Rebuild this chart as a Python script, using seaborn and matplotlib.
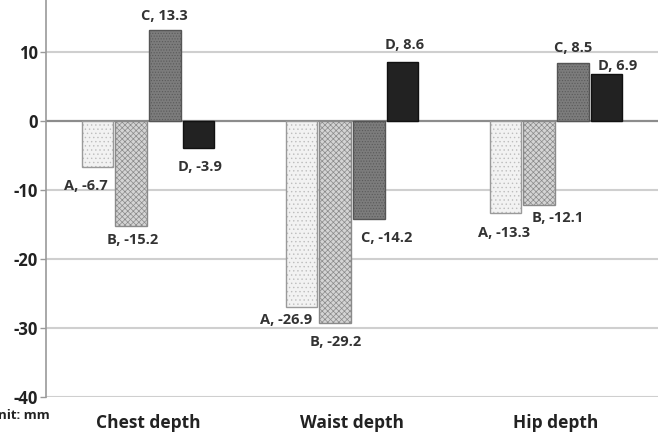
import matplotlib
matplotlib.use("Agg")
import matplotlib.pyplot as plt
import seaborn as sns
import pandas as pd

parts = ["Chest depth", "Waist depth", "Hip depth"]
groups = ["A", "B", "C", "D"]
values_A = [-6.7, -26.9, -13.3]
values_B = [-15.2, -29.2, -12.1]
values_C = [13.3, -14.2, 8.5]
values_D = [-3.9, 8.6, 6.9]
yticks = [10, 0, -10, -20, -30, -40]

rows = []
for g, vals in zip(groups, [values_A, values_B, values_C, values_D]):
    for p, v in zip(parts, vals):
        rows.append({"part": p, "group": g, "value": v})
df = pd.DataFrame(rows)

sns.set_theme(style="white")
plt.rcParams["font.family"] = ["Open Sans", "DejaVu Sans"]
plt.rcParams["hatch.linewidth"] = 0.5

fig = plt.figure(figsize=(6.62, 4.32), dpi=100)
ax = fig.add_axes([0.0695, 0.081, 0.9245, 0.919])

fills = ["#f2f2f2", "#d4d4d4", "#7c7c7c", "#222222"]
hatches = ["....", "xxxxxx", "......", ""]
hatch_cols = ["#bdbdbd", "#8a8a8a", "#5a5a5a", "#222222"]
edge_cols = ["#9a9a9a", "#8a8a8a", "#555555", "#111111"]

sns.barplot(data=df, x="part", y="value", hue="group", order=parts,
            hue_order=groups, palette=fills, width=0.66, gap=0.06,
            legend=False, ax=ax, zorder=3)

# label offsets in pixels (dx, dy) per group per part
offsets = {
    "A": [(-12, -19), (-15, -13), (-1, -20)],
    "B": [(1, -14), (0, -19), (18, -13)],
    "C": [(0, 14), (18, -19), (0, 15)],
    "D": [(1, -19), (2, 17), (11, 8)],
}

for gi, cont in enumerate(ax.containers):
    g = groups[gi]
    for pi, bar in enumerate(cont):
        bar.set_hatch(hatches[gi])
        bar.set_edgecolor(hatch_cols[gi])
        bar.set_linewidth(0.0)
        x0, w = bar.get_x(), bar.get_width()
        y0, h = bar.get_y(), bar.get_height()
        ax.add_patch(plt.Rectangle((x0, y0), w, h, fill=False,
                                   edgecolor=edge_cols[gi], lw=1.0, zorder=4))
        v = bar.get_height()
        dx, dy = offsets[g][pi]
        ax.annotate(f"{g}, {v:g}", xy=(x0 + w / 2, v), xytext=(dx, dy),
                    textcoords="offset pixels", ha="center", va="center",
                    fontsize=10.5, fontweight="bold", color="#333333",
                    zorder=5)

ax.set_ylim(-40, 17.6)
ax.set_xlim(-0.5, 2.5)
ax.set_yticks(yticks)
ax.set_yticklabels([str(t) for t in yticks], fontsize=12,
                   fontweight="bold", color="#222222")
ax.tick_params(axis="y", length=4, width=1, color="#999999", pad=2, left=True)
ax.tick_params(axis="x", length=0, pad=12)
for lbl in ax.get_xticklabels():
    lbl.set_fontsize(12.5)
    lbl.set_fontweight("bold")
    lbl.set_color("#222222")
ax.set_xlabel("")
ax.set_ylabel("")

for t in yticks:
    if t == 0:
        ax.axhline(t, color="#8c8c8c", lw=1.6, zorder=2)
    else:
        ax.axhline(t, color="#cfcfcf", lw=1.5, zorder=1)

for s in ["top", "right", "bottom"]:
    ax.spines[s].set_visible(False)
ax.spines["left"].set_color("#999999")
ax.spines["left"].set_linewidth(1.2)

fig.text(-0.018, 0.038, "Unit: mm", fontsize=9.5, fontweight="bold",
         color="#222222", ha="left", va="center")

fig.savefig("out.png", dpi=100)
